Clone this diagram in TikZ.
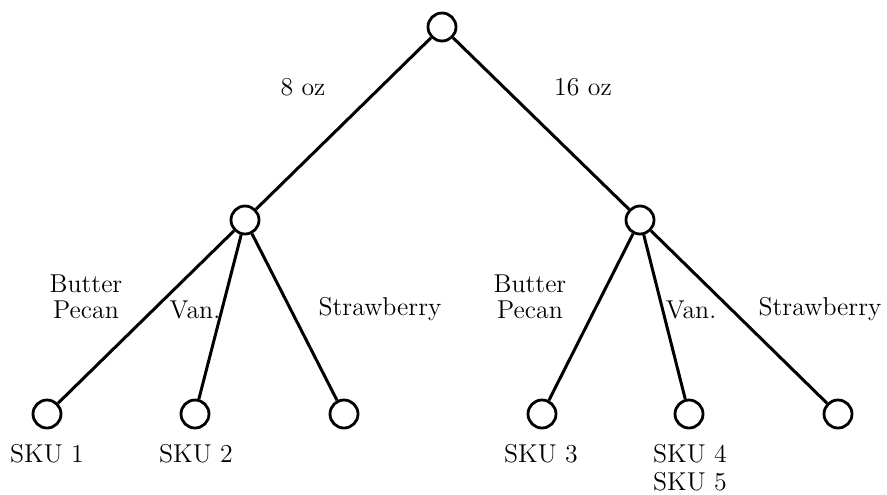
\documentclass[tikz,border=0pt]{standalone}
\begin{document}
\begin{tikzpicture}[x=0.5pt,y=-0.5pt,
  vertex/.style={circle,draw,line width=1.4pt,minimum size=14pt,inner sep=0pt},
  branch/.style={line width=1.5pt},
  lbl/.style={font=\fontsize{12.9}{13}\selectfont,inner sep=0pt,anchor=base,align=center}]
  \useasboundingbox (0,0) rectangle (887,494);

  % tree vertices
  \node[vertex] (root) at (442,27) {};
  \node[vertex] (m8)  at (245,220) {};
  \node[vertex] (m16) at (640,220) {};
  \node[vertex] (l1) at (47,414) {};
  \node[vertex] (l2) at (195,414) {};
  \node[vertex] (l3) at (344,414) {};
  \node[vertex] (r1) at (542,414) {};
  \node[vertex] (r2) at (689,414) {};
  \node[vertex] (r3) at (838,414) {};

  % branches
  \draw[branch] (root) -- (m8);
  \draw[branch] (root) -- (m16);
  \draw[branch] (m8) -- (l1);
  \draw[branch] (m8) -- (l2);
  \draw[branch] (m8) -- (l3);
  \draw[branch] (m16) -- (r1);
  \draw[branch] (m16) -- (r2);
  \draw[branch] (m16) -- (r3);

  % branch labels (multi-line labels sit on their last baseline)
  \node[lbl] (t8)  at (303,95) {8 oz};
  \node[lbl] (t16) at (583,95) {16 oz};
  \node[lbl] (bpL) at (86,318) {Butter\\Pecan};
  \node[lbl] (vL)  at (195,318) {Van.};
  \node[lbl] (sL)  at (380,315) {Strawberry};
  \node[lbl] (bpR) at (530,318) {Butter\\Pecan};
  \node[lbl] (vR)  at (691,318) {Van.};
  \node[lbl] (sR)  at (820,315) {Strawberry};

  % leaf labels
  \node[lbl] (k1) at (47,462) {SKU 1};
  \node[lbl] (k2) at (196,462) {SKU 2};
  \node[lbl] (k3) at (541,462) {SKU 3};
  \node[lbl] (k45) at (690,490) {SKU 4\\[1pt]SKU 5};
\end{tikzpicture}
\end{document}
